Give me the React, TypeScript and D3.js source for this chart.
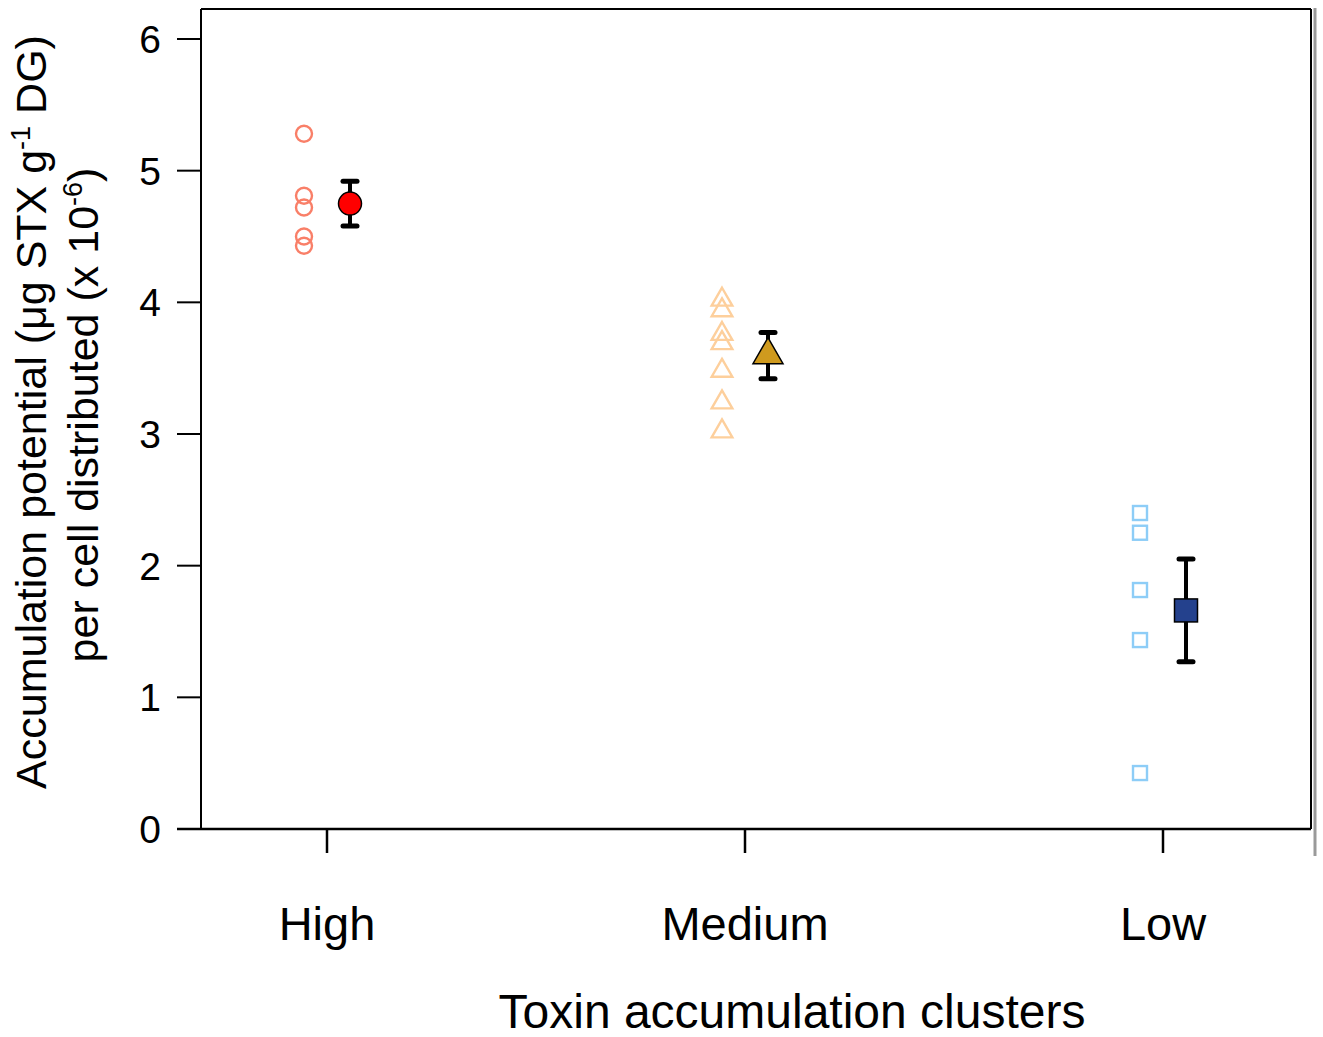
import React from "react";
import * as d3 from "d3";

const categories = ["High", "Medium", "Low"];
const highValues = [5.28, 4.81, 4.72, 4.5, 4.43];
const mediumValues = [4.02, 3.94, 3.76, 3.69, 3.48, 3.24, 3.02];
const lowValues = [2.4, 2.25, 1.815, 1.435, 0.425];
const means = [4.75, 3.6, 1.66];
const errLow = [4.58, 3.42, 1.27];
const errHigh = [4.92, 3.77, 2.05];
const yTicks = [0, 1, 2, 3, 4, 5, 6];

const W = 1323;
const H = 1037;
const left = 201;
const right = 1311;
const top = 9;
const bottom = 829;

export default function App() {
  const y = d3.scaleLinear().domain([0, 6]).range([bottom, 39]);
  const x = d3.scalePoint<string>().domain(categories).range([327, 1163]);
  const off = 23;
  const font = "'Liberation Sans', Arial, sans-serif";

  const triSmall = d3.symbol().type(d3.symbolTriangle).size(185)() as string;
  const triBig = d3.symbol().type(d3.symbolTriangle).size(390)() as string;

  const groups = [highValues, mediumValues, lowValues];
  const indivStyle = [
    { stroke: "#F97F68" },
    { stroke: "#FDCF9C" },
    { stroke: "#8DCDF7" },
  ];
  const meanFill = ["#FF0000", "#CF9A1E", "#24418D"];

  return (
    <svg
      width={W}
      height={H}
      style={{ position: "absolute", left: 0, top: 0, background: "#fff" }}
      fontFamily={font}
    >
      <rect x={0} y={0} width={W} height={H} fill="#fff" />
      {/* plot frame */}
      <line x1={left} x2={left} y1={top} y2={bottom} stroke="#000" strokeWidth={2} />
      <line x1={left} x2={right} y1={top} y2={top} stroke="#000" strokeWidth={2} />
      <line x1={right} x2={right} y1={top} y2={bottom} stroke="#000" strokeWidth={2} />
      <line x1={1315} x2={1315} y1={8} y2={856} stroke="#9a9a9a" strokeWidth={3} />
      <line x1={177} x2={right} y1={bottom} y2={bottom} stroke="#000" strokeWidth={2.5} />

      {/* y ticks */}
      {yTicks.map((t) => (
        <g key={t}>
          <line x1={177} x2={left} y1={y(t)} y2={y(t)} stroke="#000" strokeWidth={2} />
          <text
            x={161}
            y={y(t)}
            dy="0.36em"
            textAnchor="end"
            fontSize={39}
            fill="#000"
          >
            {t}
          </text>
        </g>
      ))}

      {/* x ticks */}
      {categories.map((c) => (
        <g key={c}>
          <line x1={x(c)} x2={x(c)} y1={bottom} y2={853} stroke="#000" strokeWidth={2.5} />
          <text x={x(c)} y={940} textAnchor="middle" fontSize={47} fill="#000">
            {c}
          </text>
        </g>
      ))}

      {/* axis titles */}
      <text x={792} y={1028} textAnchor="middle" fontSize={48} fill="#000">
        Toxin accumulation clusters
      </text>
      <text
        transform={`translate(46, 412) rotate(-90)`}
        textAnchor="middle"
        fontSize={43}
        fill="#000"
      >
        Accumulation potential (μg STX g
        <tspan dy={-16} fontSize={27}>-1</tspan>
        <tspan dy={16}> DG)</tspan>
      </text>
      <text
        transform={`translate(98, 415) rotate(-90)`}
        textAnchor="middle"
        fontSize={43}
        fill="#000"
      >
        per cell distributed (x 10
        <tspan dy={-16} fontSize={27}>-6</tspan>
        <tspan dy={16}>)</tspan>
      </text>

      {/* individual points */}
      {groups.map((vals, gi) =>
        vals.map((v, i) => {
          const cx = (x(categories[gi]) as number) - off;
          const cy = y(v);
          if (gi === 0)
            return (
              <circle key={`p${gi}-${i}`} cx={cx} cy={cy} r={8} fill="none" stroke={indivStyle[gi].stroke} strokeWidth={2.4} />
            );
          if (gi === 1)
            return (
              <path key={`p${gi}-${i}`} d={triSmall} transform={`translate(${cx},${cy})`} fill="none" stroke={indivStyle[gi].stroke} strokeWidth={2.4} />
            );
          return (
            <rect key={`p${gi}-${i}`} x={cx - 7} y={cy - 7} width={14} height={14} fill="none" stroke={indivStyle[gi].stroke} strokeWidth={2.4} />
          );
        })
      )}

      {/* error bars and means */}
      {categories.map((c, gi) => {
        const cx = (x(c) as number) + off;
        return (
          <g key={`m${c}`}>
            <line x1={cx} x2={cx} y1={y(errLow[gi])} y2={y(errHigh[gi])} stroke="#000" strokeWidth={4} />
            <line x1={cx - 7} x2={cx + 7} y1={y(errLow[gi])} y2={y(errLow[gi])} stroke="#000" strokeWidth={5} strokeLinecap="round" />
            <line x1={cx - 7} x2={cx + 7} y1={y(errHigh[gi])} y2={y(errHigh[gi])} stroke="#000" strokeWidth={5} strokeLinecap="round" />
            {gi === 0 && <circle cx={cx} cy={y(means[gi])} r={11.5} fill={meanFill[gi]} stroke="#000" strokeWidth={1.5} />}
            {gi === 1 && (
              <path d={triBig} transform={`translate(${cx},${y(means[gi])})`} fill={meanFill[gi]} stroke="#000" strokeWidth={1.5} />
            )}
            {gi === 2 && (
              <rect x={cx - 11.5} y={y(means[gi]) - 11.5} width={23} height={23} fill={meanFill[gi]} stroke="#000" strokeWidth={1.5} />
            )}
          </g>
        );
      })}
    </svg>
  );
}
